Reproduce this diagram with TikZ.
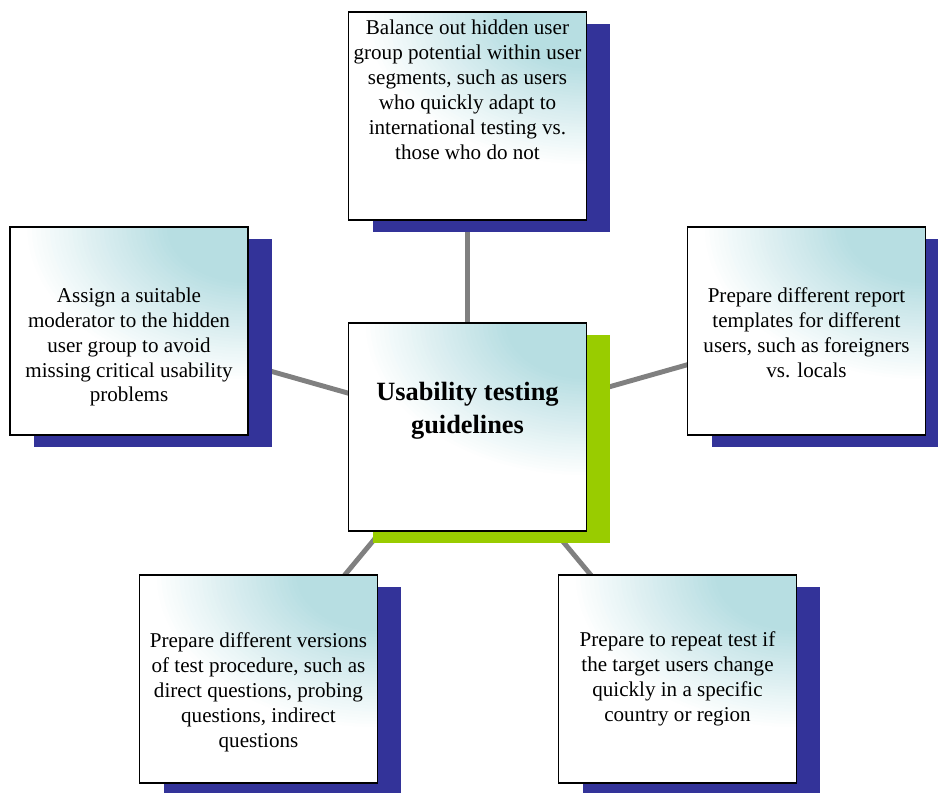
\documentclass[tikz,border=0pt]{standalone}
\usepackage{fontspec}
\setmainfont{Liberation Serif}
\usetikzlibrary{shadows,backgrounds}
\definecolor{cornerteal}{RGB}{183,222,226}
\definecolor{shadowblue}{RGB}{51,51,153}
\definecolor{shadowgreen}{RGB}{153,204,0}
\definecolor{linkgray}{RGB}{128,128,128}
\newcommand{\tealfade}{%
  \foreach \k in {50,49,...,1} {%
    \pgfmathsetmacro{\pct}{min(100,100*(1-\k/50)/0.64)}%
    \fill[cornerteal!\pct!white] (path picture bounding box.north east)
      ellipse [x radius=0.09*\k cm, y radius=0.062*\k cm];
  }}
\tikzset{
  guidebox/.style={draw=black, line width=1pt, fill=white,
    path picture={\tealfade},
    minimum width=4.76cm, minimum height=4.16cm, inner sep=0pt,
    general shadow={fill=#1, draw=none, shadow xshift=0.48cm, shadow yshift=-0.24cm}},
  guidebox/.default=shadowblue,
  boxtext/.style={align=center, inner sep=0pt, font=\fontsize{12}{14.2}\selectfont},
  link/.style={draw=linkgray, line width=2.8pt}
}
\begin{document}
\begin{tikzpicture}[x=0.02cm, y=-0.02cm]
      \useasboundingbox (0,0) rectangle (938,793);
      \node[guidebox] (top) at (467.5,116) {};
      \node[guidebox] (left) at (129,331) {};
      \node[guidebox] (right) at (806.5,331) {};
      \node[guidebox] (bottomleft) at (258.5,679) {};
      \node[guidebox] (bottomright) at (677.5,679) {};
      \node[guidebox=shadowgreen] (core) at (467.5,427) {};
      \node[boxtext] (toptext) at (467.5,90) {Balance out hidden user\\group potential within user\\segments, such as users\\who quickly adapt to\\international testing vs.\\those who do not};
      \node[boxtext] (lefttext) at (129,347) {Assign a suitable\\moderator to the hidden\\user group to avoid\\missing critical usability\\problems};
      \node[boxtext] (righttext) at (806.5,333) {Prepare different report\\templates for different\\users, such as foreigners\\vs. locals};
      \node[boxtext] (bottomlefttext) at (258.5,692) {Prepare different versions\\of test procedure, such as\\direct questions, probing\\questions, indirect\\questions};
      \node[boxtext] (bottomrighttext) at (677.5,679) {Prepare to repeat test if\\the target users change\\quickly in a specific\\country or region};
      \node[boxtext, font=\fontsize{15}{18.5}\selectfont\bfseries] (coretext) at (467.5,411) {Usability testing\\guidelines};
      \begin{scope}[on background layer]
        \draw[link] (core.center) to (top.center);
        \draw[link] (core.center) to (left.center);
        \draw[link] (core.center) to (right.center);
        \draw[link] (core.center) to (bottomleft.center);
        \draw[link] (core.center) to (bottomright.center);
      \end{scope}
    \end{tikzpicture}
\end{document}
